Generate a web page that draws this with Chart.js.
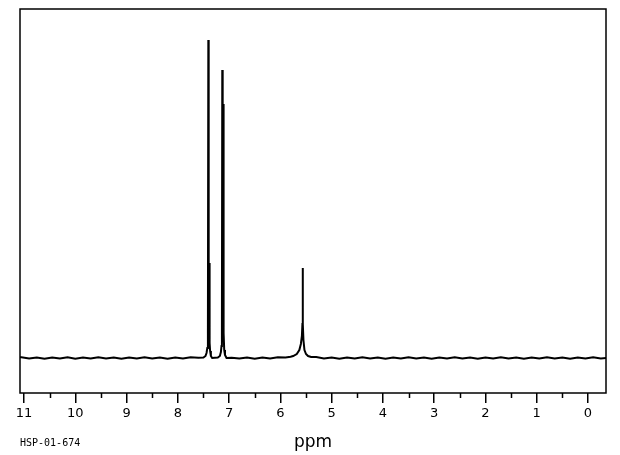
<!DOCTYPE html>
<html>
<head>
<meta charset="utf-8">
<script src="https://cdn.jsdelivr.net/npm/chart.js@4"></script>
<style>
  html, body { margin: 0; padding: 0; background: #fff; }
  #wrap { position: relative; width: 620px; height: 455px; }
  #code { position: absolute; left: 20px; top: 437px; font: 10px "DejaVu Sans Mono", monospace; color: #000; }
</style>
</head>
<body>
<div id="wrap">
  <canvas id="nmr" width="620" height="455"></canvas>
  <div id="code">HSP-01-674</div>
</div>
<script>
// spectrum samples (ppm, relative intensity)
const baselinePpm = [11.2, 11.05, 10.9, 10.75, 10.6, 10.45, 10.3, 10.15, 10.0, 9.85, 9.7, 9.55,
    9.4, 9.25, 9.1, 8.95, 8.8, 8.65, 8.5, 8.35, 8.2, 8.05, 7.9, 7.75, 7.6,
    6.95, 6.8, 6.65, 6.5, 6.35, 6.2, 6.05, 5.9, 5.8,
    5.3, 5.15, 5.0, 4.85, 4.7, 4.55, 4.4, 4.25, 4.1, 3.95, 3.8, 3.65, 3.5, 3.35, 3.2,
    3.05, 2.9, 2.75, 2.6, 2.45, 2.3, 2.15, 2.0, 1.85, 1.7, 1.55, 1.4, 1.25, 1.1,
    0.95, 0.8, 0.65, 0.5, 0.35, 0.2, 0.05, -0.1, -0.25, -0.4];
const baselineInt = [0, 0.8, -0.6, 0.5, -0.8, 0.6, -0.4, 0.8, -0.7, 0.4, -0.6, 0.7,
    -0.5, 0.6, -0.8, 0.5, -0.4, 0.7, -0.6, 0.5, -0.7, 0.6, -0.4, 0.7, 0.3,
    0.3, -0.6, 0.5, -0.7, 0.6, -0.5, 0.7, 0.6, 1.2,
    1.0, -0.5, 0.6, -0.7, 0.5, -0.6, 0.8, -0.5, 0.6, -0.7, 0.4, -0.6, 0.7, -0.5, 0.6,
    -0.8, 0.5, -0.4, 0.7, -0.6, 0.5, -0.7, 0.6, -0.5, 0.7, -0.6, 0.4, -0.7, 0.5,
    -0.6, 0.7, -0.4, 0.6, -0.8, 0.5, -0.6, 0.7, -0.5, 0.4];

const peak1Ppm = [7.50, 7.46, 7.44, 7.425, 7.413, 7.405, 7.398, 7.388, 7.38, 7.37, 7.355, 7.33];
const peak1Int = [0.5, 2, 5, 10, 25, 318, 30, 95, 15, 7, 2, 0];

const peak2Ppm = [7.22, 7.18, 7.16, 7.148, 7.14, 7.133, 7.125, 7.115, 7.107, 7.095, 7.08, 7.05];
const peak2Int = [0.5, 2, 6, 12, 28, 288, 50, 254, 25, 8, 3, 0];

const peak3Ppm = [5.75, 5.68, 5.63, 5.60, 5.58, 5.57, 5.565, 5.56, 5.55, 5.53, 5.50, 5.46, 5.40];
const peak3Int = [2, 4, 8, 14, 22, 34, 90, 34, 18, 8, 4, 2, 1];

const majorTicks = [0, 1, 2, 3, 4, 5, 6, 7, 8, 9, 10, 11];
const minorTicks = [0.5, 1.5, 2.5, 3.5, 4.5, 5.5, 6.5, 7.5, 8.5, 9.5, 10.5];

const ppmMin = -0.351;
const ppmMax = 11.078;

function toPoints(xs, ys) {
    return xs.map((x, i) => ({ x: x, y: ys[i] }));
}

const spectrum = [
    ...toPoints(baselinePpm, baselineInt),
    ...toPoints(peak1Ppm, peak1Int),
    ...toPoints(peak2Ppm, peak2Int),
    ...toPoints(peak3Ppm, peak3Int)
].sort((a, b) => b.x - a.x);

// frame around the plot area + short minor ticks under the axis
const framePlugin = {
    id: 'frame',
    afterDraw(chart) {
        const { ctx, chartArea } = chart;
        const xs = chart.scales.x;
        ctx.save();
        ctx.strokeStyle = '#000';
        ctx.lineWidth = 1.5;
        ctx.strokeRect(chartArea.left, chartArea.top, chartArea.right - chartArea.left, chartArea.bottom - chartArea.top);
        ctx.beginPath();
        minorTicks.forEach(v => {
            const px = Math.round(xs.getPixelForValue(v)) + 0.5;
            ctx.moveTo(px, chartArea.bottom);
            ctx.lineTo(px, chartArea.bottom + 5);
        });
        ctx.stroke();
        ctx.restore();
    }
};

new Chart(document.getElementById('nmr'), {
    type: 'line',
    data: {
        datasets: [{
            data: spectrum,
            borderColor: '#000',
            borderWidth: 2,
            pointRadius: 0,
            tension: 0
        }]
    },
    options: {
        responsive: false,
        animation: false,
        layout: { padding: { left: 20, right: 14, top: 9, bottom: 0 } },
        plugins: { legend: { display: false }, tooltip: { enabled: false } },
        scales: {
            x: {
                type: 'linear',
                reverse: true,
                min: ppmMin,
                max: ppmMax,
                afterBuildTicks: s => { s.ticks = majorTicks.map(v => ({ value: v })); },
                afterFit: s => { s.height = 62; },
                border: { display: false },
                grid: { drawOnChartArea: false, tickLength: 10, color: '#000', lineWidth: 1.5 },
                ticks: {
                    color: '#000',
                    padding: 3,
                    maxRotation: 0,
                    autoSkip: false,
                    font: { family: 'DejaVu Sans', size: 13 }
                },
                title: {
                    display: true,
                    text: 'ppm',
                    color: '#000',
                    padding: { top: 0, bottom: 2 },
                    font: { family: 'DejaVu Sans', size: 17 }
                }
            },
            y: {
                display: false,
                min: -35,
                max: 349
            }
        }
    },
    plugins: [framePlugin]
});
</script>
</body>
</html>
